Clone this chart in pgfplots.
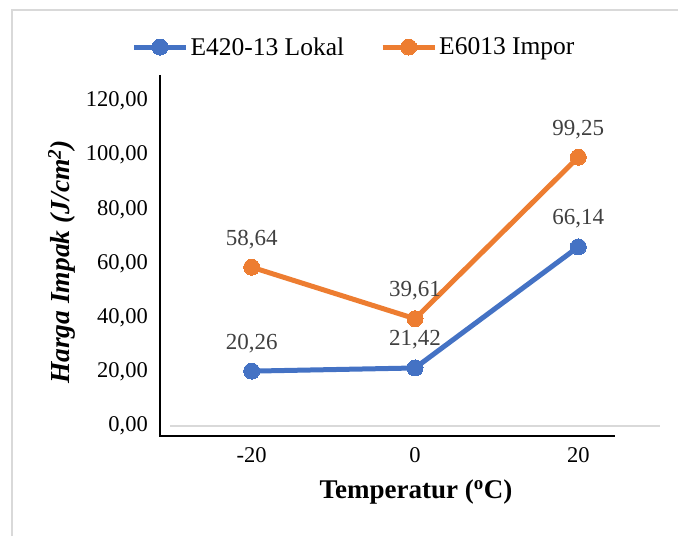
\documentclass[border=0pt]{standalone}
\usepackage{pgfplots}
\pgfplotsset{compat=1.18}
\usepackage{fontspec}
\setmainfont{Liberation Serif}
\definecolor{cblue}{HTML}{4472C4}
\definecolor{corange}{HTML}{ED7D31}
\definecolor{lblgray}{HTML}{404040}
\definecolor{bordergray}{HTML}{D9D9D9}
\begin{document}
\begin{tikzpicture}
\path[use as bounding box] (0pt,0pt) rectangle (678pt,536pt);
% chart border
\draw[bordergray,line width=1.5pt] (12pt,0pt) -- (12pt,526pt) -- (678pt,526pt);
\begin{axis}[
  at={(170pt,110pt)}, anchor=south west,
  scale only axis, width=490pt, height=325pt,
  xmin=-0.5, xmax=2.5, ymin=0, ymax=120,
  axis line style={draw=none},
  major tick length=0pt,
  xtick={0,1,2}, xticklabels={-20,0,20},
  ytick={0,20,40,60,80,100,120},
  yticklabels={{0,00},{20,00},{40,00},{60,00},{80,00},{100,00},{120,00}},
  ticklabel style={font=\fontsize{22.5}{26}\selectfont, text=black},
  xticklabel style={anchor=base, inner sep=0pt, yshift=-37pt},
  yticklabel style={anchor=east, inner sep=0pt, xshift=-22pt},
  clip=false,
  xlabel={\textbf{Temperatur (\textsuperscript{o}C)}},
  xlabel style={at={(axis description cs:0.502,-0.203)}, anchor=center, font=\fontsize{27}{30}\selectfont},
  ylabel={\textbf{\textit{Harga Impak (J/cm\textsuperscript{2})}}},
  ylabel style={at={(axis description cs:-0.2204,0.5046)}, anchor=center, font=\fontsize{27.5}{30}\selectfont},
  legend columns=2,
  legend style={at={(rel axis cs:0.3755,1.166)}, anchor=center, draw=none, fill=none,
    font=\fontsize{25.5}{28}\selectfont, inner sep=0pt,
    /tikz/every even column/.append style={column sep=34pt}},
  legend image code/.code={\draw[#1, mark repeat=2, mark phase=2] plot coordinates {(0pt,0pt) (26pt,0pt) (52pt,0pt)};},
  nodes near coords,
  point meta=explicit symbolic,
  every node near coord/.append style={anchor=base, inner sep=0pt, yshift=22pt,
    font=\fontsize{23}{26}\selectfont, text=lblgray},
]
\draw[bordergray, line width=1.5pt] (axis cs:-0.5,0) -- (axis cs:2.5,0);
\addplot[cblue, line width=5pt, mark=*, mark size=8pt, mark options={fill=cblue, draw=cblue, line width=0pt}] table[meta=lab] {
x y lab
0 20.26 20,26
1 21.42 21,42
2 66.14 66,14
};
\addlegendentry{E420-13 Lokal}
\addplot[corange, line width=5pt, mark=*, mark size=8pt, mark options={fill=corange, draw=corange, line width=0pt}] table[meta=lab] {
x y lab
0 58.64 58,64
1 39.61 39,61
2 99.25 99,25
};
\addlegendentry{E6013 Impor}
\end{axis}
% offset axis lines
\draw[black, line width=1.2pt] (160pt,461pt) -- (160pt,100pt) -- (615pt,100pt);
\end{tikzpicture}
\end{document}
